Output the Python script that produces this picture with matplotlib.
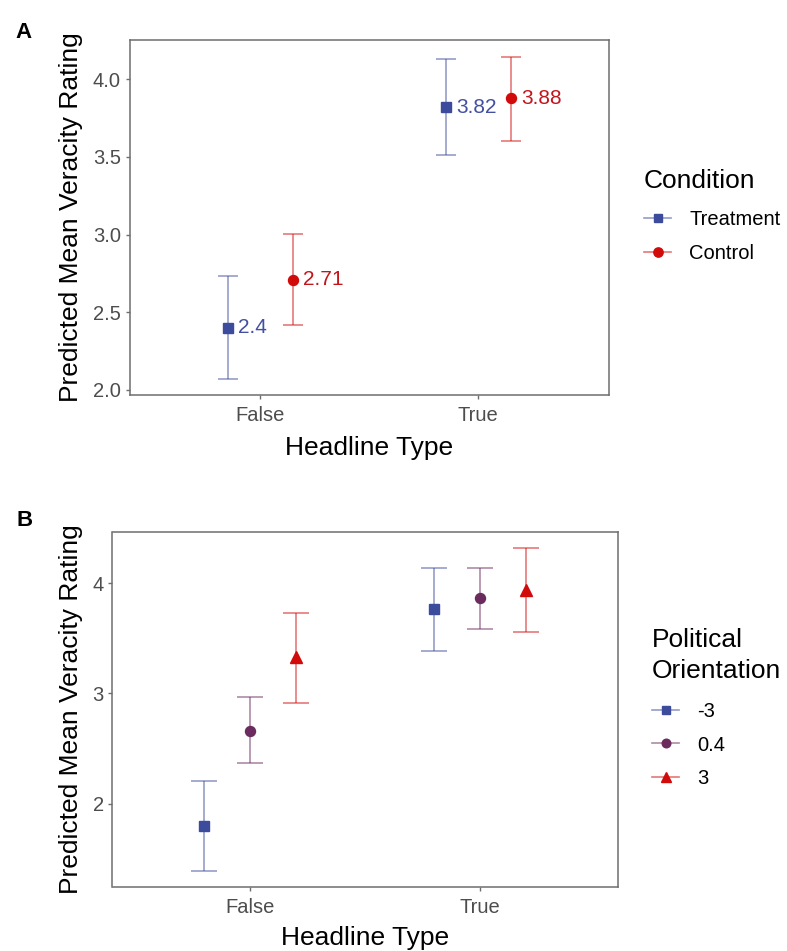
import matplotlib
matplotlib.use('Agg')
import matplotlib.pyplot as plt
from matplotlib.lines import Line2D
import numpy as np

plt.rcParams['font.family'] = ['Liberation Sans', 'DejaVu Sans']

# Panel A: predicted mean veracity by condition
headline_types = ['False', 'True']
conditions = ['Treatment', 'Control']
treat_mean = [2.40, 3.82]
treat_lo = [2.07, 3.51]
treat_hi = [2.73, 4.13]
ctrl_mean = [2.71, 3.88]
ctrl_lo = [2.415, 3.60]
ctrl_hi = [3.005, 4.145]

# Panel B: predicted mean veracity by political orientation
orient_levels = ['-3', '0.4', '3']
m3_mean = [1.80, 3.76]
m3_lo = [1.39, 3.385]
m3_hi = [2.21, 4.14]
p04_mean = [2.663, 3.86]
p04_lo = [2.366, 3.58]
p04_hi = [2.964, 4.14]
p3_mean = [3.33, 3.94]
p3_lo = [2.91, 3.56]
p3_hi = [3.73, 4.32]

blue = '#3C4B9B'
red = '#D10A0A'
purple = '#6B2B5E'
blue_txt = '#4350A0'
red_txt = '#C4141C'
frame_col = '#6E6E6E'
tick_txt = '#4D4D4D'

fig = plt.figure(figsize=(7.87, 9.51), dpi=100)
W, H = 787, 951

def px_axes(l, t, r, b):
    return fig.add_axes([l / W, 1 - b / H, (r - l) / W, (b - t) / H])

def style(ax):
    for s in ax.spines.values():
        s.set_color(frame_col)
        s.set_linewidth(1.1)
    ax.tick_params(axis='both', colors=frame_col, length=3.2, width=1.0,
                   labelsize=14.5, labelcolor=tick_txt)
    ax.tick_params(axis='x', pad=5)
    ax.tick_params(axis='y', pad=3)
    ax.set_xticks([1, 2])
    ax.set_xticklabels(headline_types)
    ax.set_xlim(0.4, 2.6)

def make_legend(ax, handles, labels, title, anchor, sep):
    leg = ax.legend(handles, labels, title=title, loc='center left',
                    bbox_to_anchor=anchor, bbox_transform=fig.transFigure,
                    frameon=False, fontsize=14.5, title_fontsize=19, handlelength=1.35,
                    handletextpad=0.9, labelspacing=0.72, borderpad=0, borderaxespad=0,
                    alignment='left')
    leg.get_title().set_linespacing(1.35)
    leg._legend_box.sep = sep
    return leg

x = np.arange(1, len(headline_types) + 1)

# ---------- Panel A ----------
axA = px_axes(129.6, 40, 609, 395)
dA = 0.15
series_A = [
    (treat_mean, treat_lo, treat_hi, blue, blue_txt, 's', 6.5, -dA),
    (ctrl_mean, ctrl_lo, ctrl_hi, red, red_txt, 'o', 7.2, dA),
]
handles_A = []
for mean, lo, hi, col, tcol, mk, ms, off in series_A:
    mean = np.array(mean)
    yerr = [mean - np.array(lo), np.array(hi) - mean]
    axA.errorbar(x + off, mean, yerr=yerr, fmt='none', ecolor=col, alpha=0.5,
                 elinewidth=1.3, capsize=7.5, capthick=1.3)
    axA.plot(x + off, mean, linestyle='none', marker=mk, markersize=ms,
             color=col, zorder=3)
    for xi, yi in zip(x + off, mean):
        axA.annotate(f'{yi:g}', (xi, yi), xytext=(7.5, 0), textcoords='offset points',
                     ha='left', va='center', fontsize=15, color=tcol)
    handles_A.append(Line2D([], [], color=matplotlib.colors.to_rgba(col, 0.55),
                            marker=mk, markersize=ms - 0.5, markerfacecolor=col,
                            markeredgecolor=col, linewidth=1.2))
axA.set_ylim(1.966, 4.254)
axA.set_yticks([2.0, 2.5, 3.0, 3.5, 4.0])
axA.set_yticklabels(['2.0', '2.5', '3.0', '3.5', '4.0'])
style(axA)
make_legend(axA, handles_A, conditions, 'Condition', (644 / W, 1 - 216 / H), 12)

fig.text(71 / W, 1 - 217.5 / H, 'Predicted Mean Veracity Rating', rotation=90,
         ha='center', va='center', fontsize=19)
fig.text(369 / W, 1 - 455 / H, 'Headline Type', ha='center', va='baseline', fontsize=19)
fig.text(23 / W, 1 - 38 / H, 'A', ha='center', va='baseline', fontsize=16, fontweight='bold')

# ---------- Panel B ----------
axB = px_axes(112.5, 531.7, 617.7, 887)
dB = 0.2
series_B = [
    (m3_mean, m3_lo, m3_hi, blue, 's', 6.8, -dB),
    (p04_mean, p04_lo, p04_hi, purple, 'o', 7.2, 0.0),
    (p3_mean, p3_lo, p3_hi, red, '^', 8.5, dB),
]
handles_B = []
for mean, lo, hi, col, mk, ms, off in series_B:
    mean = np.array(mean)
    yerr = [mean - np.array(lo), np.array(hi) - mean]
    axB.errorbar(x + off, mean, yerr=yerr, fmt='none', ecolor=col, alpha=0.5,
                 elinewidth=1.3, capsize=9.5, capthick=1.3)
    axB.plot(x + off, mean, linestyle='none', marker=mk, markersize=ms,
             color=col, zorder=3)
    handles_B.append(Line2D([], [], color=matplotlib.colors.to_rgba(col, 0.55),
                            marker=mk, markersize=ms - 1, markerfacecolor=col,
                            markeredgecolor=col, linewidth=1.2))
axB.set_ylim(1.245, 4.465)
axB.set_yticks([2, 3, 4])
axB.set_yticklabels(['2', '3', '4'])
style(axB)
make_legend(axB, handles_B, orient_levels, 'Political\nOrientation', (652 / W, 1 - 708 / H), 14)

fig.text(71 / W, 1 - 709.5 / H, 'Predicted Mean Veracity Rating', rotation=90,
         ha='center', va='center', fontsize=19)
fig.text(365 / W, 1 - 945 / H, 'Headline Type', ha='center', va='baseline', fontsize=19)
fig.text(25 / W, 1 - 526 / H, 'B', ha='center', va='baseline', fontsize=16, fontweight='bold')

plt.savefig('out.png', dpi=100)
